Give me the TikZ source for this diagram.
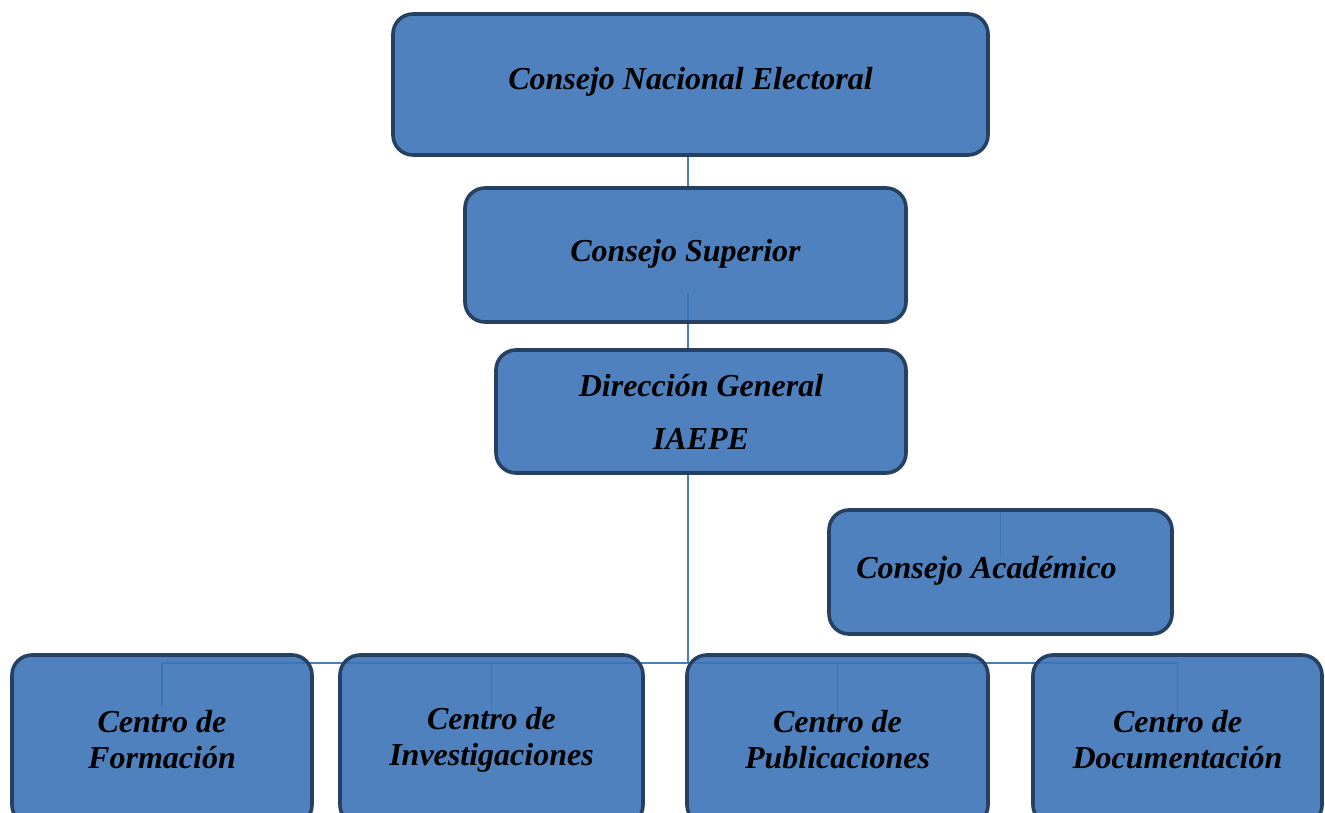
\documentclass[tikz,border=0pt]{standalone}
\usepackage{fontspec}
\setmainfont{Liberation Serif}
\usetikzlibrary{backgrounds}
\definecolor{unitfill}{RGB}{59,115,182}
\definecolor{unitedge}{RGB}{38,64,97}
\definecolor{linkblue}{RGB}{74,126,187}

\begin{document}
\begin{tikzpicture}[x=1pt,y=-1pt,
  unit/.style={draw=unitedge, line width=3.6pt, fill=unitfill, fill opacity=0.9,
    text opacity=1, rounded corners=20pt, align=center, inner sep=0pt,
    font=\bfseries\itshape\fontsize{32}{36}\selectfont},
  link/.style={draw=linkblue, line width=1.3pt}]

\clip (0,0) rectangle (1325,813);

\node[unit, minimum width=595, minimum height=141] (cne) at (690.5,84.5) {\raisebox{12pt}{Consejo Nacional Electoral}};
\node[unit, minimum width=441, minimum height=134] (cs) at (685.5,255) {\raisebox{10pt}{Consejo Superior}};
\node[unit, minimum width=410, minimum height=123] (dg) at (701,411.5) {Dirección General\\[17pt]IAEPE};
\node[unit, minimum width=343, minimum height=124] (ca) at (1000.5,572) {\raisebox{10pt}{Consejo Académico}\hspace{28pt}};
\node[unit, minimum width=300, minimum height=170] (cf) at (162,740) {Centro de\\Formación};
\node[unit, minimum width=303, minimum height=170] (ci) at (491.5,740) {Centro de\\Investigaciones};
\node[unit, minimum width=301, minimum height=170] (cp) at (837.5,740) {Centro de\\Publicaciones};
\node[unit, minimum width=289, minimum height=170] (cd) at (1177.5,740) {Centro de\\Documentación};

\coordinate (bus) at (688,663);

\begin{scope}[on background layer]
\draw[link] (bus |- cne.south) -- (bus |- cs.north);
\draw[link] (bus |- 0,293) -- (bus |- dg.north);
\draw[link] (bus |- dg.south) -- (bus);
\draw[link] (bus -| cf.north) -- (bus -| cd.north);
\draw[link] (bus -| cf.north) -- ++(0,44);
\draw[link] (bus -| ci.north) -- ++(0,44);
\draw[link] (bus -| cp.north) -- ++(0,70);
\draw[link] (bus -| cd.north) -- ++(0,70);
\draw[link] (ca.north) -- ++(0,48);
\end{scope}

\end{tikzpicture}
\end{document}
